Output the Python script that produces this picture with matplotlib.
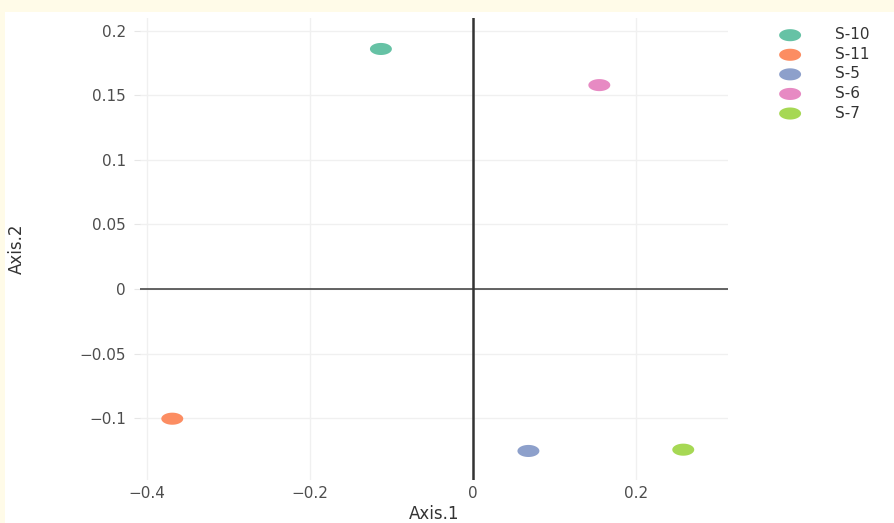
import matplotlib.pyplot as plt
from matplotlib.patches import Rectangle
from matplotlib.path import Path
import numpy as np

samples = ['S-10', 'S-11', 'S-5', 'S-6', 'S-7']
axis1 = [-0.113, -0.369, 0.068, 0.155, 0.258]
axis2 = [0.186, -0.1005, -0.1255, 0.158, -0.1245]
colors = ['#66c2a5', '#fc8d62', '#8da0cb', '#e78ac3', '#a6d854']

xticks = [-0.4, -0.2, 0, 0.2]
xlabels = ['\u22120.4', '\u22120.2', '0', '0.2']
yticks = [0.2, 0.15, 0.1, 0.05, 0, -0.05, -0.1]
ylabels = ['0.2', '0.15', '0.1', '0.05', '0', '\u22120.05', '\u22120.1']

# flattened ellipse marker (the original image is stretched sideways)
t = np.linspace(0, 2 * np.pi, 60)
ell = Path(np.column_stack([np.cos(t), 0.55 * np.sin(t)]), closed=True)

fig = plt.figure(figsize=(8.95, 5.23), dpi=100)
fig.patch.set_facecolor('#fffbe8')
fig.patches.append(Rectangle((5 / 895, 0), 1, 1 - 12 / 523, transform=fig.transFigure,
                             facecolor='white', edgecolor='none', zorder=-10))

ax = fig.add_axes([140 / 895, 43 / 523, 588 / 895, 462 / 523])
ax.set_facecolor('white')
for i in range(len(samples)):
    ax.scatter(axis1[i], axis2[i], s=250, marker=ell, color=colors[i],
               edgecolors='none', label=samples[i], zorder=3)

ax.axhline(0, color='#3a3a3a', lw=1.1, zorder=2)
ax.axvline(0, color='#333333', lw=1.8, zorder=2)

ax.set_xlim(-0.4086, 0.3129)
ax.set_ylim(-0.148, 0.210)
ax.set_xticks(xticks)
ax.set_xticklabels(xlabels)
ax.set_yticks(yticks)
ax.set_yticklabels(ylabels)
ax.grid(True, color='#f0f0f0', lw=1)
ax.set_axisbelow(True)
for s in ax.spines.values():
    s.set_visible(False)
ax.tick_params(axis='both', colors='#e6e6e6', labelcolor='#4d4d4d', labelsize=11, length=4)
ax.tick_params(axis='x', length=0, pad=4)
ax.tick_params(axis='y', pad=6)

ax.set_xlabel('Axis.1', fontsize=12, color='#333333', labelpad=3)
ax.set_ylabel('Axis.2', fontsize=12, color='#333333', labelpad=39)

fig.legend(loc='upper left', bbox_to_anchor=(0.870, 0.948), frameon=False,
           fontsize=11, labelcolor='#333333', borderpad=0, borderaxespad=0,
           handlelength=1.5, handletextpad=2.2, labelspacing=0.3, scatterpoints=1)

plt.savefig('out.png', dpi=100, facecolor=fig.get_facecolor())
